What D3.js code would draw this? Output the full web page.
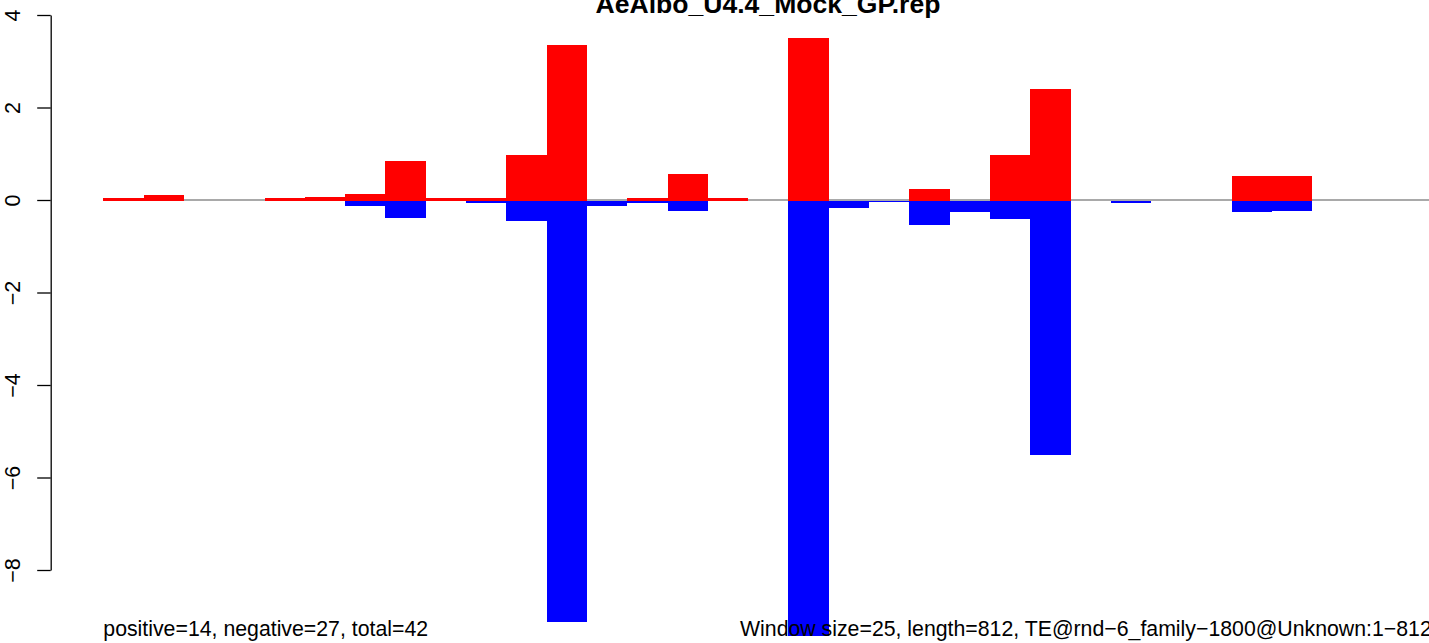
<!DOCTYPE html>
<html>
<head>
<meta charset="utf-8">
<script src="https://cdn.jsdelivr.net/npm/d3@7"></script>
<style>
  html, body { margin: 0; padding: 0; background: #fff; overflow: hidden; }
  svg { display: block; }
  text { font-family: "Liberation Sans", Arial, Helvetica, sans-serif; }
</style>
</head>
<body>
<svg id="chart" width="1429" height="643"></svg>
<script>
// ---- data ----
const title = "AeAlbo_U4.4_Mock_GP.rep";
const leftNote = "positive=14, negative=27, total=42";
const rightNote = "Window size=25, length=812, TE@rnd\u22126_family\u22121800@Unknown:1\u2212812";
const windowIndex = d3.range(33);
const positiveValues = [0.04, 0.09, 0, 0, 0.03, 0.045, 0.11, 0.82, 0.03, 0.04, 0.95, 3.33, 0, 0.04, 0.54, 0.03, 0,
  3.48, 0, 0, 0.22, 0, 0.95, 2.38, 0, 0, 0, 0, 0.5, 0.5, 0, 0, 0];
const negativeValues = [0, 0, 0, 0, 0, 0, -0.12, -0.38, 0, -0.06, -0.45, -9.12, -0.12, -0.06, -0.23, 0, 0,
  -9.42, -0.17, -0.04, -0.55, -0.27, -0.40, -5.51, 0, -0.06, 0, 0, -0.25, -0.23, 0, 0, 0];
const yTicks = [-8, -6, -4, -2, 0, 2, 4];

// ---- layout ----
const svg = d3.select("#chart");
const x = d3.scaleLinear().domain([0, windowIndex.length]).range([103.3, 103.3 + 33 * 40.3]);
const y = d3.scaleLinear().domain([-8, 4]).range([570, 15]);
const axisX = 50.7;

function fitFont(sel, targetWidth) {
  const w = sel.node().getComputedTextLength();
  const fs = parseFloat(sel.attr("font-size"));
  sel.attr("font-size", fs * targetWidth / w);
}

// zero line (under the bars)
svg.append("line")
  .attr("x1", x(0)).attr("x2", x(windowIndex.length))
  .attr("y1", y(0)).attr("y2", y(0))
  .attr("stroke", "#555").attr("stroke-width", 1.2);

// bars
svg.append("g").attr("shape-rendering", "crispEdges").selectAll("rect")
  .data(windowIndex.filter(i => positiveValues[i] > 0))
  .join("rect")
  .attr("x", i => x(i))
  .attr("width", i => x(i + 1) - x(i))
  .attr("y", i => y(positiveValues[i]) - 0.6)
  .attr("height", i => y(0) - y(positiveValues[i]) + 1.2)
  .attr("fill", "#ff0000");

svg.append("g").attr("shape-rendering", "crispEdges").selectAll("rect")
  .data(windowIndex.filter(i => negativeValues[i] < 0))
  .join("rect")
  .attr("x", i => x(i))
  .attr("width", i => x(i + 1) - x(i))
  .attr("y", y(0) + 0.6)
  .attr("height", i => y(negativeValues[i]) - y(0) - 0.6)
  .attr("fill", "#0000ff");

// y axis
const axis = d3.axisLeft(y).tickValues(yTicks).tickSizeOuter(0).tickSizeInner(13.5).tickPadding(0)
  .tickFormat(d => d3.format("d")(d));
const gAxis = svg.append("g").attr("transform", `translate(${axisX},0)`).call(axis);
gAxis.select(".domain").attr("stroke", "#000").attr("stroke-width", 1.3);
gAxis.selectAll(".tick line").attr("stroke", "#000").attr("stroke-width", 1.3);
gAxis.selectAll(".tick text")
  .attr("font-size", 21.5)
  .attr("fill", "#000")
  .attr("x", null).attr("dy", null)
  .attr("text-anchor", "middle")
  .attr("transform", `translate(${20 - axisX},0) rotate(-90)`)
  .attr("font-family", "Liberation Sans, Arial, sans-serif");

// title
const t = svg.append("text")
  .attr("x", 768).attr("y", 12.5)
  .attr("text-anchor", "middle")
  .attr("font-weight", "bold")
  .attr("font-size", 20)
  .attr("fill", "#000")
  .text(title);
fitFont(t, 345);

// bottom notes
const ln = svg.append("text")
  .attr("x", 103.3).attr("y", 636)
  .attr("font-size", 20)
  .attr("fill", "#000")
  .text(leftNote);
fitFont(ln, 325);
const lfs = ln.attr("font-size");

svg.append("text")
  .attr("x", 740).attr("y", 636)
  .attr("font-size", lfs)
  .attr("fill", "#000")
  .text(rightNote);
</script>
</body>
</html>
